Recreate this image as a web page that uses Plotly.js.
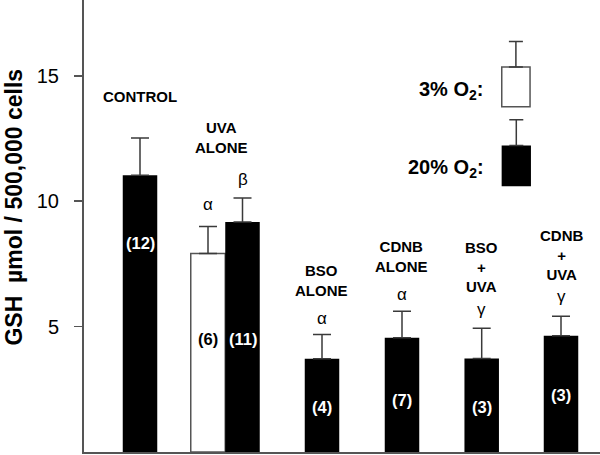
<!DOCTYPE html>
<html><head><meta charset="utf-8">
<script src="https://cdn.plot.ly/plotly-3.0.1.min.js"></script>
<style>html,body{margin:0;padding:0;background:#fff}</style>
</head><body><div id="chart" style="width:600px;height:455px"></div>
<script>
// ---- data ----
const groups = ['CONTROL', 'UVA<br>ALONE', 'BSO<br>ALONE', 'CDNB<br>ALONE', 'BSO<br>+<br>UVA', 'CDNB<br>+<br>UVA'];
const gsh20 = [11.03, 9.17, 3.72, 4.55, 3.73, 4.63];   // 20% O2
const err20 = [1.49, 0.96, 0.96, 1.06, 1.20, 0.78];
const n20 = [12, 11, 4, 7, 3, 3];
const sig20 = ['', 'β', 'α', 'α', 'γ', 'γ'];
const gsh3 = [7.91];   // 3% O2 (UVA alone)
const err3 = [1.08];
const n3 = [6];
const sig3 = ['α'];
const yTicks = [5, 10, 15];
const legendText = ['3% O<sub>2</sub>:', '20% O<sub>2</sub>:'];

// ---- layout positions ----
const pos20 = [56, 158.5, 238, 318, 397.7, 477];
const pos3 = [124];
const labelX = [56, 137, 237.7, 317.7, 397, 477];
const labelY = [14.19, 12.52, 6.85, 7.80, 7.37, 7.84];
const sigY20 = [0, 10.85, 5.34, 6.29, 5.67, 6.19];
const sigY3 = [9.85];
const nY20 = [8.33, 4.51, 1.81, 2.08, 1.78, 2.28];
const nY3 = [4.49];

const FONT = 'Liberation Sans, Arial, sans-serif';
const AX = '#555';
const ERR = '#3a3a3a';

const traces = [
  {
    type: 'bar', x: pos3, y: gsh3, width: 34.5,
    marker: {color: '#fff', line: {color: AX, width: 1.5}},
    error_y: {type: 'data', array: err3, arrayminus: [0], symmetric: false, color: ERR, thickness: 1.5, width: 9},
    showlegend: false, hoverinfo: 'skip'
  },
  {
    type: 'bar', x: pos20, y: gsh20, width: 34.5,
    marker: {color: '#000', line: {color: '#000', width: 0}},
    error_y: {type: 'data', array: err20, arrayminus: err20.map(() => 0), symmetric: false, color: ERR, thickness: 1.5, width: 9},
    showlegend: false, hoverinfo: 'skip'
  },
  // legend keys
  {
    type: 'bar', x: [431.9], base: [13.76], y: [1.59], width: 28.3,
    marker: {color: '#fff', line: {color: AX, width: 1.5}},
    error_y: {type: 'data', array: [1.02], arrayminus: [0], symmetric: false, color: ERR, thickness: 1.5, width: 7},
    showlegend: false, hoverinfo: 'skip'
  },
  {
    type: 'bar', x: [432.3], base: [10.59], y: [1.63], width: 29.3,
    marker: {color: '#000', line: {width: 0}},
    error_y: {type: 'data', array: [1.03], arrayminus: [0], symmetric: false, color: ERR, thickness: 1.5, width: 7},
    showlegend: false, hoverinfo: 'skip'
  }
];

const annotations = [];
groups.forEach((g, i) => {
  annotations.push({x: labelX[i], y: labelY[i], text: g, showarrow: false,
    font: {family: FONT, size: 15, color: '#000', weight: 'bold'}, xanchor: 'center', yanchor: 'middle'});
  if (sig20[i]) annotations.push({x: pos20[i], y: sigY20[i], text: sig20[i], showarrow: false,
    font: {family: FONT, size: 17, color: '#000'}, xanchor: 'center', yanchor: 'middle'});
  annotations.push({x: pos20[i], y: nY20[i], text: '(' + n20[i] + ')', showarrow: false,
    font: {family: FONT, size: 16.5, color: '#fff', weight: 'bold'}, xanchor: 'center', yanchor: 'middle'});
});
pos3.forEach((p, i) => {
  annotations.push({x: p, y: sigY3[i], text: sig3[i], showarrow: false,
    font: {family: FONT, size: 17, color: '#000'}, xanchor: 'center', yanchor: 'middle'});
  annotations.push({x: p, y: nY3[i], text: '(' + n3[i] + ')', showarrow: false,
    font: {family: FONT, size: 16.5, color: '#000', weight: 'bold'}, xanchor: 'center', yanchor: 'middle'});
});
// legend labels
annotations.push({x: 401.7, y: 14.40, text: legendText[0], showarrow: false, xanchor: 'right', yanchor: 'middle',
  font: {family: FONT, size: 20, color: '#000', weight: 'bold'}});
annotations.push({x: 401.7, y: 11.32, text: legendText[1], showarrow: false, xanchor: 'right', yanchor: 'middle',
  font: {family: FONT, size: 20, color: '#000', weight: 'bold'}});
// y-axis title
annotations.push({xref: 'paper', yref: 'paper', x: -0.1357, y: 0.543, textangle: -90,
  text: 'GSH&nbsp; µmol / 500,000 cells', showarrow: false, xanchor: 'center', yanchor: 'middle',
  font: {family: FONT, size: 23, color: '#000', weight: 'bold'}});

const layout = {
  width: 600, height: 455,
  margin: {l: 84, r: 0, t: 0, b: 3, pad: 0},
  paper_bgcolor: '#fff', plot_bgcolor: '#fff',
  barmode: 'overlay',
  showlegend: false,
  xaxis: {range: [0, 516], showgrid: false, zeroline: false, showticklabels: false, ticks: '',
    showline: true, linecolor: AX, linewidth: 2, fixedrange: true},
  yaxis: {range: [0, 18.02], showgrid: false, zeroline: false, tickvals: yTicks, ticktext: yTicks.map(String),
    ticks: 'outside', ticklen: 8, tickwidth: 1.5, tickcolor: AX, ticklabelstandoff: 11,
    tickfont: {family: FONT, size: 20, color: '#000'},
    showline: true, linecolor: AX, linewidth: 2, fixedrange: true},
  annotations: annotations
};

Plotly.newPlot('chart', traces, layout, {displayModeBar: false, staticPlot: true});
</script></body></html>
